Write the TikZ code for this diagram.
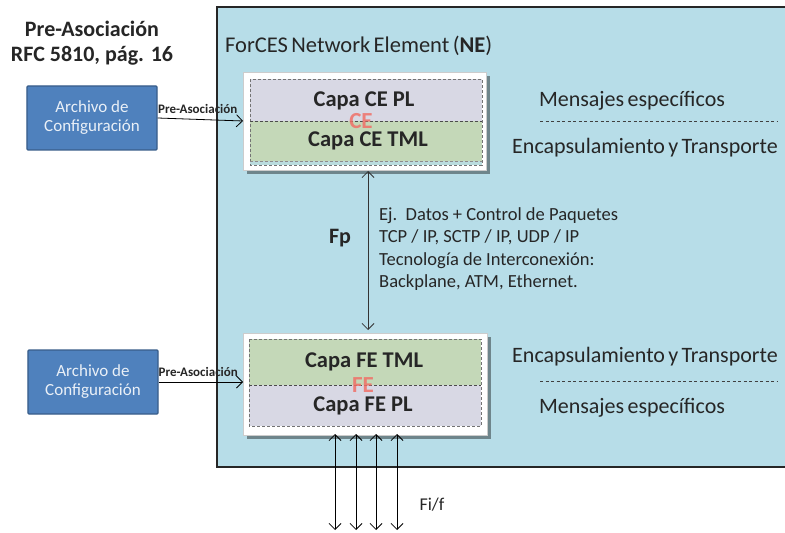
\documentclass[tikz,border=0pt]{standalone}
\usepackage{fontspec}
\setmainfont{Carlito}
\usetikzlibrary{arrows.meta}
\definecolor{nefill}{HTML}{B7DDE8}
\definecolor{boxblue}{HTML}{4F81BD}
\definecolor{boxedge}{HTML}{385D8A}
\definecolor{plfill}{HTML}{D8D8E4}
\definecolor{tmlfill}{HTML}{C4D8B8}
\definecolor{txt}{HTML}{262626}
\definecolor{tagred}{HTML}{F07068}
\newcommand{\fsz}[1]{\fontsize{#1bp}{#1bp}\selectfont}
\newcommand{\tightspace}{\spaceskip=0.15em plus 0.05em\relax}
\tikzset{
  filebox/.style={draw=boxedge, line width=1.2bp, fill=boxblue, rounded corners=1bp,
    minimum width=130bp, minimum height=64bp, align=center, text=white!88!boxblue,
    font=\fsz{17}, inner sep=0},
  openarrow/.style={-{Straight Barb[length=6bp,width=12bp]}, line width=0.8bp, draw=black},
  bothopen/.style={{Straight Barb[length=6bp,width=12bp]}-{Straight Barb[length=6bp,width=12bp]}, line width=0.8bp, draw=black!80},
  layertext/.style={font=\bfseries\fsz{22.5}, text=txt},
  sidetext/.style={font=\fsz{22}\tightspace, text=txt},
  tagtext/.style={font=\bfseries\fsz{23}, text=tagred, opacity=0.85},
  smalllabel/.style={font=\bfseries\fsz{13}, text=txt, inner sep=1bp},
  sepline/.style={dashed, dash pattern=on 3bp off 2.5bp, draw=black!75, line width=0.6bp},
  innerdash/.style={dashed, dash pattern=on 3bp off 2bp, draw=black!55, line width=0.6bp},
}
\begin{document}
\begin{tikzpicture}[x=1bp,y=-1bp]
\useasboundingbox (0,0) rectangle (785,533);
\fill[white] (0,0) rectangle (785,533);

% Network element container
\fill[nefill] (217,7) rectangle (786,467);
\draw[black!85, line width=1.2bp] (786,7) -- (217,7) -- (217,467) -- (786,467);
\node[anchor=west, font=\fsz{22.5}\tightspace, text=txt, inner sep=0] (netitle) at (225,46) {ForCES Network Element (\textbf{NE})};

% Heading
\node[font=\bfseries\fsz{22}, text=txt, align=center] (heading) at (92,43)
  {Pre-Asociación\\[3bp]RFC 5810, pág. 16};

% ---- CE block ----
\fill[black!40!nefill] (247,76) rectangle (490,174);
\fill[white] (243,72) rectangle (486,170);
\draw[black!20, line width=0.5bp] (243,72) rectangle (486,170);
\fill[plfill] (250,79) rectangle (482,121);
\fill[tmlfill] (250,121) rectangle (482,161);
\fill[nefill!80!tmlfill] (250,161) rectangle (482,165);
\draw[innerdash] (250,79) rectangle (482,165);
\draw[innerdash, draw=black!70] (250,121) -- (482,121);
\draw[innerdash, draw=black!45] (250,161) -- (482,161);
\node[tagtext] (cetag) at (361,121) {CE};
\node[layertext] (cepl) at (364,101) {Capa CE PL};
\node[layertext] (cetml) at (368,141) {Capa CE TML};
\coordinate (cetop) at (243,121);
\coordinate (cebot) at (368,171);

% ---- FE block ----
\fill[black!40!nefill] (247,337) rectangle (491,439);
\fill[white] (243,333) rectangle (487,435);
\draw[black!20, line width=0.5bp] (243,333) rectangle (487,435);
\fill[tmlfill] (249,339) rectangle (481,385);
\fill[plfill] (249,385) rectangle (481,426);
\draw[innerdash] (249,339) rectangle (481,426);
\draw[innerdash, draw=black!70] (249,385) -- (481,385);
\node[tagtext] (fetag) at (363,385) {FE};
\node[layertext] (fetml) at (364,362) {Capa FE TML};
\node[layertext] (fepl) at (363,406) {Capa FE PL};
\coordinate (fein) at (243,382);
\coordinate (fetop) at (368,330);

% ---- Configuration files ----
\node[filebox] (cfg1) at (92,118) {Archivo de\\[2bp]Configuración};
\node[filebox] (cfg2) at (93,382) {Archivo de\\[2bp]Configuración};
\draw[openarrow] (cfg1.east) -- (cetop)
  node[smalllabel, pos=0.47, above=4bp] (pa1) {Pre-Asociación};
\draw[openarrow] (cfg2.east |- fein) -- (fein)
  node[smalllabel, pos=0.47, above=4bp] (pa2) {Pre-Asociación};

% ---- Fp interface ----
\draw[bothopen] (cebot) -- (fetop);
\node[font=\bfseries\fsz{22}, text=txt] (fp) at (340,238) {Fp};
\node[anchor=west, align=left, font=\fontsize{18.5bp}{22.5bp}\selectfont, text=txt, inner sep=0] (fpinfo) at (379,249)
  {Ej.\ \ Datos + Control de Paquetes\\TCP / IP, SCTP / IP, UDP / IP\\Tecnología de Interconexión:\\Backplane, ATM, Ethernet.};

% ---- Layer descriptions ----
\node[sidetext] (cemsg) at (632,101) {Mensajes específicos};
\node[sidetext] (ceenc) at (645,148) {Encapsulamiento y Transporte};
\coordinate (cesepL) at (540,121);
\coordinate (cesepR) at (778,121);
\draw[sepline] (cesepL) -- (cesepR);

\node[sidetext] (feenc) at (645,357) {Encapsulamiento y Transporte};
\node[sidetext] (femsg) at (632,408) {Mensajes específicos};
\coordinate (fesepL) at (540,381);
\coordinate (fesepR) at (778,381);
\draw[sepline] (fesepL) -- (fesepR);

% ---- Fi/f interfaces ----
\foreach \i/\xx in {1/335,2/356,3/376,4/397}{
  \coordinate (fiT\i) at (\xx,434);
  \coordinate (fiB\i) at (\xx,530);
  \draw[bothopen, draw=black] (fiB\i) -- (fiT\i);
}
\node[font=\fsz{18}, text=txt] (fif) at (432,505) {Fi/f};
\end{tikzpicture}
\end{document}
